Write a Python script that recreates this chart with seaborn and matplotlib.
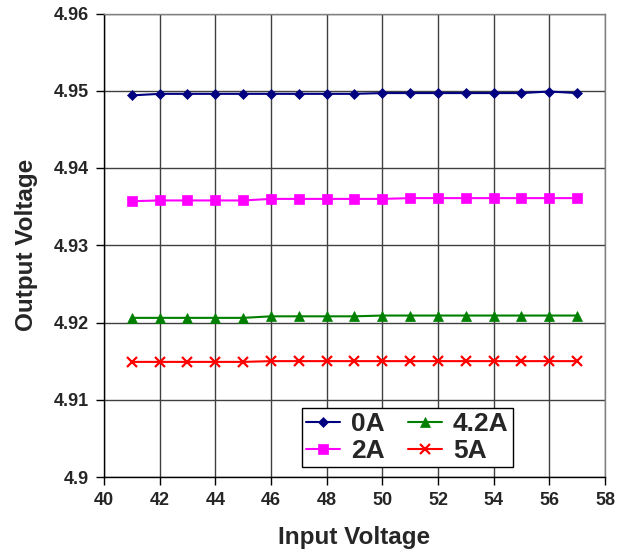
import matplotlib
matplotlib.use("Agg")
import matplotlib.pyplot as plt
import seaborn as sns
import pandas as pd

input_voltage = [41, 42, 43, 44, 45, 46, 47, 48, 49, 50, 51, 52, 53, 54, 55, 56, 57]
out_0A = [4.9494, 4.9496, 4.9496, 4.9496, 4.9496, 4.9496, 4.9496, 4.9496, 4.9496,
          4.9497, 4.9497, 4.9497, 4.9497, 4.9497, 4.9497, 4.9499, 4.9497]
out_2A = [4.9357, 4.9358, 4.9358, 4.9358, 4.9358, 4.9360, 4.9360, 4.9360, 4.9360,
          4.9360, 4.9361, 4.9361, 4.9361, 4.9361, 4.9361, 4.9361, 4.9361]
out_42A = [4.9206, 4.9206, 4.9206, 4.9206, 4.9206, 4.9208, 4.9208, 4.9208, 4.9208,
           4.9209, 4.9209, 4.9209, 4.9209, 4.9209, 4.9209, 4.9209, 4.9209]
out_5A = [4.9149, 4.9149, 4.9149, 4.9149, 4.9149, 4.9150, 4.9150, 4.9150, 4.9150,
          4.9150, 4.9150, 4.9150, 4.9150, 4.9150, 4.9150, 4.9150, 4.9150]
series_names = ["0A", "2A", "4.2A", "5A"]
x_ticks = [40, 42, 44, 46, 48, 50, 52, 54, 56, 58]
y_ticks = [4.90, 4.91, 4.92, 4.93, 4.94, 4.95, 4.96]
y_tick_labels = ["4.9", "4.91", "4.92", "4.93", "4.94", "4.95", "4.96"]

sns.set_style("white")
plt.rcParams["font.family"] = ["Liberation Sans", "DejaVu Sans"]
plt.rcParams["font.weight"] = "bold"

fig = plt.figure(figsize=(6.29, 5.52), dpi=100)
ax = fig.add_axes([104 / 629, 1 - 477 / 552, (605 - 104) / 629, (477 - 13.5) / 552])

styles = {
    "0A": dict(color="#000080", marker="D", markersize=5.5),
    "2A": dict(color="#FF00FF", marker="s", markersize=6.5),
    "4.2A": dict(color="#008000", marker="^", markersize=7.5),
    "5A": dict(color="#FF0000", marker="x", markersize=7, markeredgewidth=1.6),
}
values = {"0A": out_0A, "2A": out_2A, "4.2A": out_42A, "5A": out_5A}

for name in series_names:
    df = pd.DataFrame({"Vin": input_voltage, "Vout": values[name]})
    st = styles[name]
    kw = dict(markeredgewidth=st.get("markeredgewidth", 0.5))
    sns.lineplot(data=df, x="Vin", y="Vout", ax=ax, color=st["color"],
                 marker=st["marker"], markersize=st["markersize"],
                 markeredgecolor=st["color"], linewidth=1.5, label=name, **kw)

ax.set_xlim(40, 58)
ax.set_ylim(4.90, 4.96)
ax.set_xticks(x_ticks)
ax.set_yticks(y_ticks)
ax.set_yticklabels(y_tick_labels)
ax.grid(True, color="#404040", linewidth=1)
ax.set_axisbelow(True)

for s in ["left", "bottom"]:
    ax.spines[s].set_color("black")
    ax.spines[s].set_linewidth(1)
for s in ["top", "right"]:
    ax.spines[s].set_color("#808080")
    ax.spines[s].set_linewidth(1)

ax.tick_params(axis="both", direction="out", length=6, width=1, color="black",
               labelsize=13, pad=5, left=True, bottom=True)
for lab in ax.get_xticklabels() + ax.get_yticklabels():
    lab.set_fontweight("bold")

ax.set_xlabel("Input Voltage", fontsize=17.5, fontweight="bold", labelpad=12)
ax.set_ylabel("Output Voltage", fontsize=17.5, fontweight="bold", labelpad=11)

leg = ax.legend(loc="lower left", bbox_to_anchor=(0.395, 0.0216), ncol=2,
                prop={"size": 19, "weight": "bold"}, frameon=True, fancybox=False,
                edgecolor="black", framealpha=1, borderaxespad=0,
                handlelength=1.3, handletextpad=0.4, columnspacing=0.9,
                labelspacing=0.1, borderpad=0.15)
leg.get_frame().set_linewidth(1)

fig.savefig("out.png", dpi=100)
